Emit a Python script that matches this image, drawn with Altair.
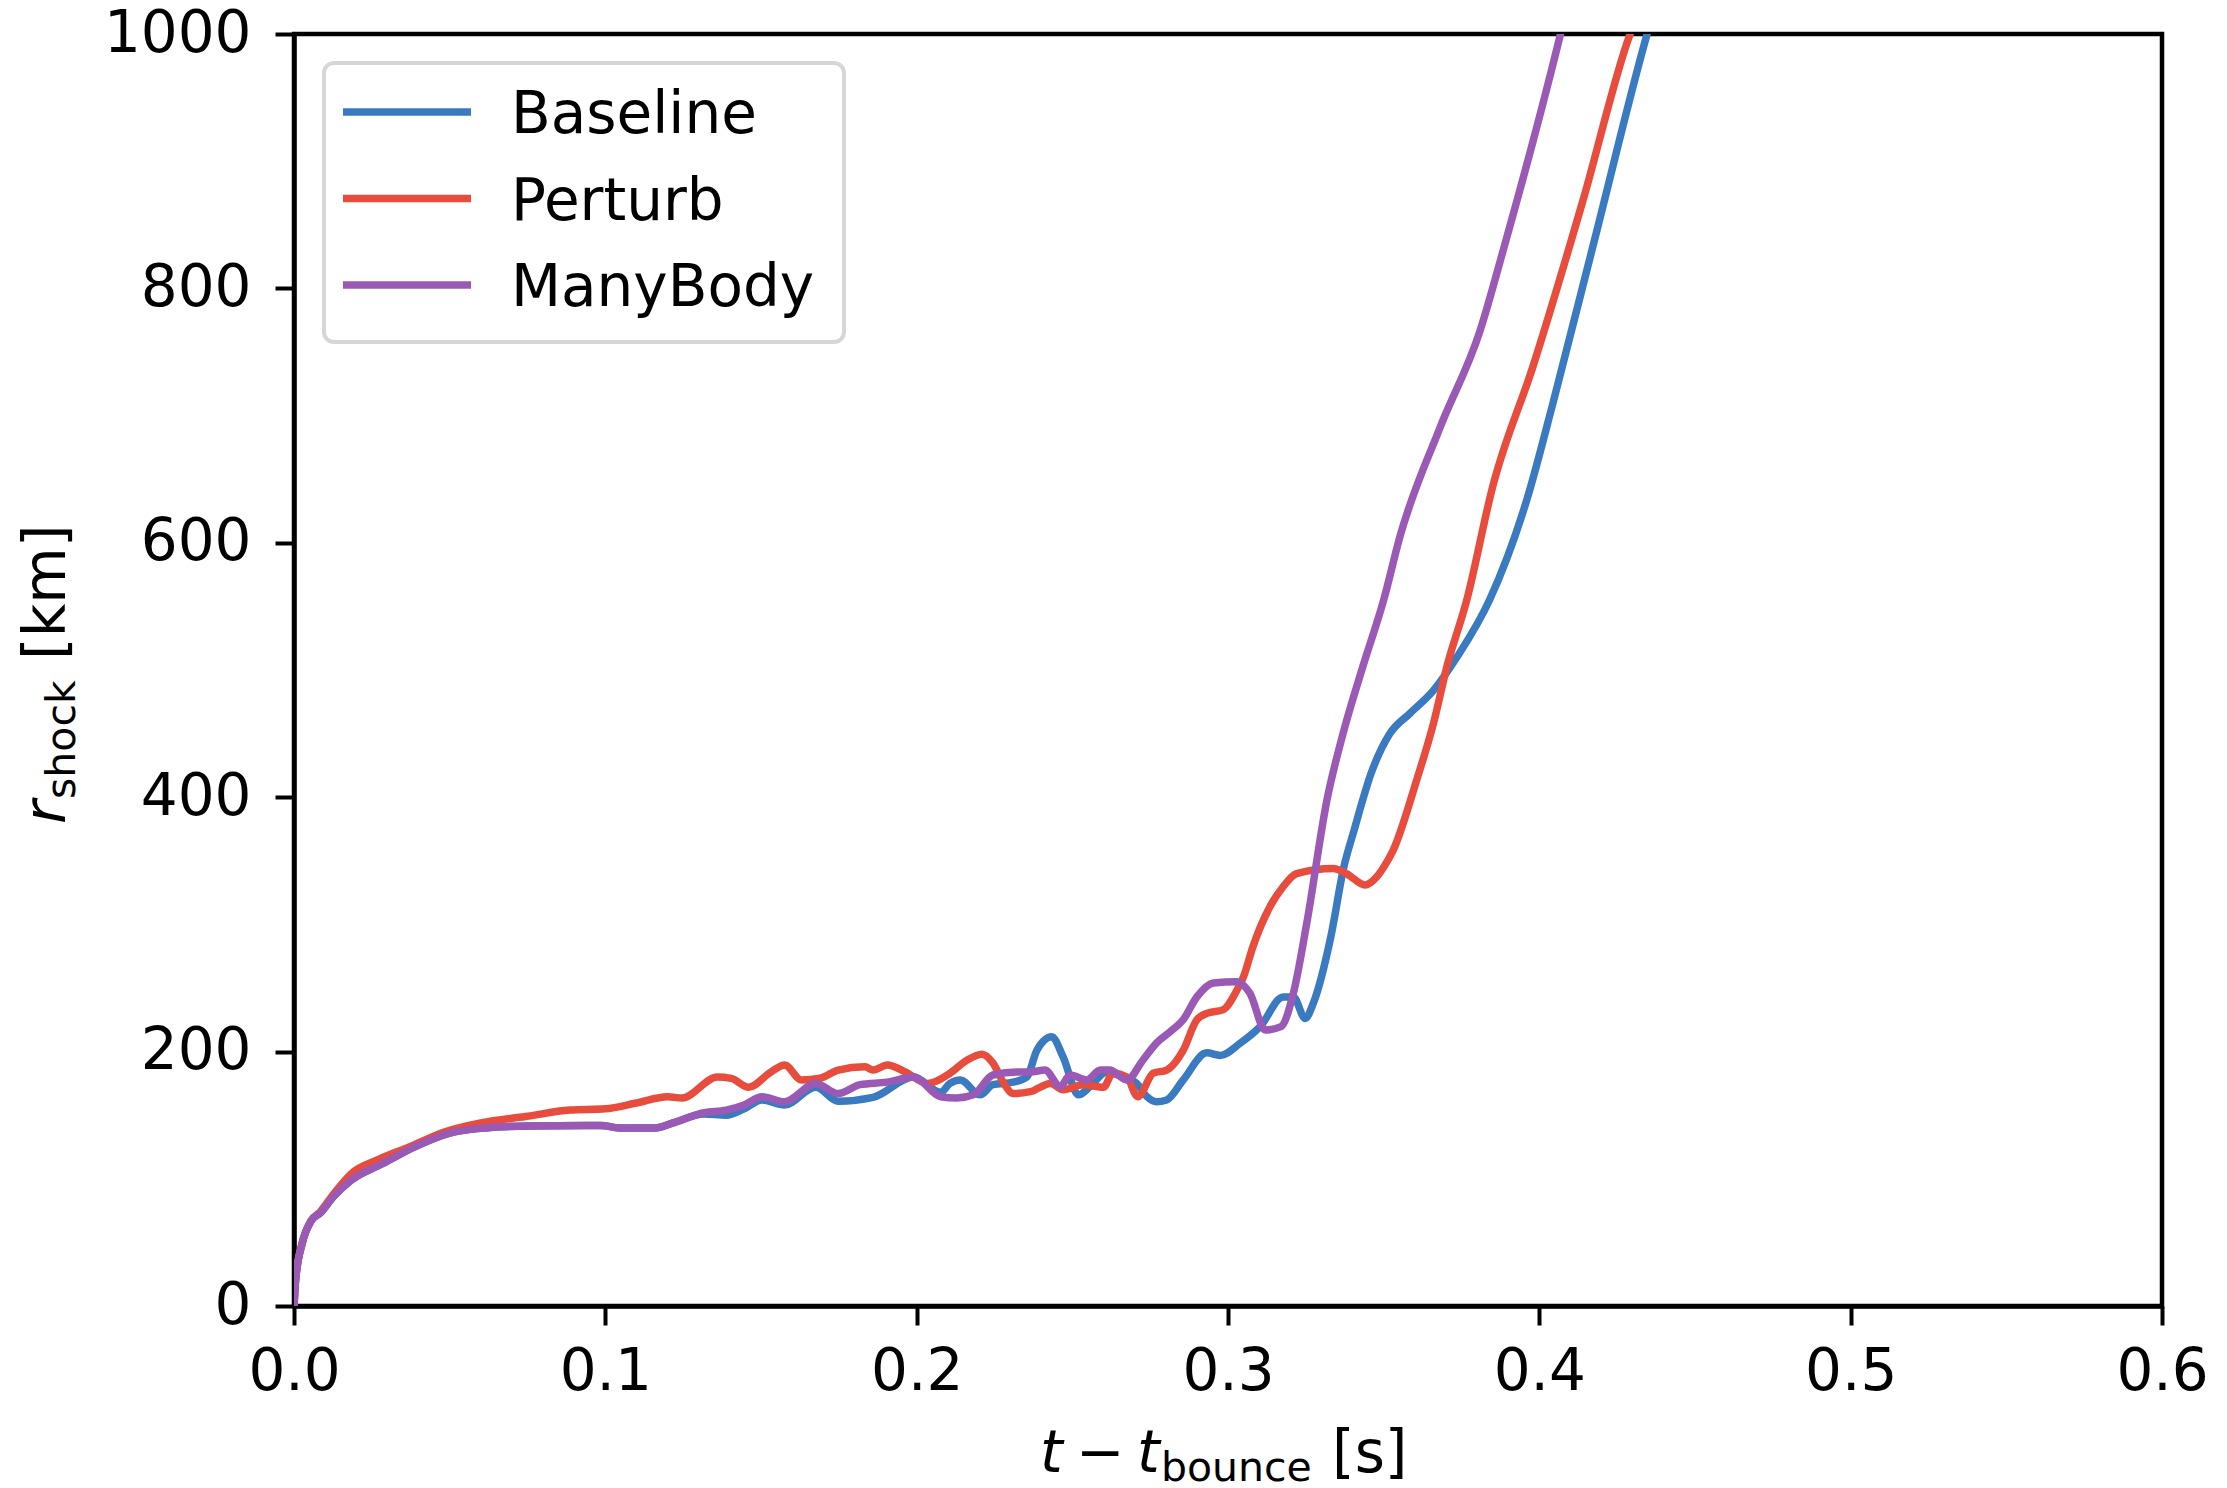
import altair as alt
import pandas as pd

series_names = ["Baseline", "Perturb", "ManyBody"]
series_colors = ["#3a7ac1", "#e74c3c", "#9b59b6"]

baseline_t = [0, 0.0005, 0.0026, 0.0055, 0.0084, 0.0127, 0.0184, 0.0285, 0.0386, 0.050, 0.0615, 0.0758,
              0.0986, 0.1044, 0.116, 0.1218, 0.1317, 0.1388, 0.1446, 0.1503, 0.1575, 0.1676, 0.1748, 0.186,
              0.199, 0.2077, 0.2107, 0.214, 0.2204, 0.2245, 0.231, 0.2354, 0.2386, 0.2434, 0.247, 0.252,
              0.2557, 0.261, 0.2663, 0.2707, 0.274, 0.277, 0.2803, 0.2856, 0.2932, 0.2975, 0.304, 0.3103,
              0.3177, 0.321, 0.3248, 0.3274, 0.333, 0.3372, 0.3405, 0.346, 0.352, 0.3585, 0.366, 0.3735,
              0.384, 0.396, 0.4045, 0.4173, 0.4345, 0.436]
baseline_r = [0, 20, 49, 67, 73, 86, 99, 112, 125, 136, 140, 141.5,
              142, 140, 140, 144, 151, 150, 155, 162, 158, 172, 161, 164,
              180, 168, 175, 177.7, 166, 174, 176, 180, 201, 211.7, 196, 166,
              172.5, 184, 180, 175, 164.5, 160.6, 162, 177.7, 199, 197, 206.7, 219.6,
              243, 243, 226, 238, 290, 345, 374, 419, 450, 466, 484, 510,
              555, 634, 711, 834, 999, 1012]

perturb_t = [0, 0.0005, 0.0026, 0.0055, 0.0084, 0.0127, 0.0184, 0.027, 0.037, 0.0485, 0.06, 0.0744,
             0.0887, 0.100, 0.110, 0.12, 0.1246, 0.136, 0.1404, 0.146, 0.1532, 0.1576, 0.163, 0.169,
             0.1748, 0.1834, 0.186, 0.1906, 0.1963, 0.2035, 0.2107, 0.216, 0.221, 0.2245, 0.228, 0.231,
             0.2365, 0.243, 0.247, 0.2535, 0.26, 0.263, 0.2675, 0.271, 0.276, 0.2803, 0.2856, 0.29,
             0.2932, 0.2985, 0.3028, 0.305, 0.308, 0.3135, 0.3177, 0.322, 0.3338, 0.338, 0.344, 0.3478,
             0.35, 0.353, 0.3606, 0.366, 0.3703, 0.3767, 0.385, 0.398, 0.414, 0.429, 0.431]
perturb_r = [0, 20, 49, 67, 74, 88, 104, 115, 125, 137, 144, 149,
             154, 155, 159.6, 164.5, 163.5, 180, 179, 172, 184, 189.5, 177.7, 179,
             185.5, 188, 185.5, 189.5, 184, 175, 183, 193, 198, 191, 175, 167,
             168.5, 175, 170, 174, 172, 183, 180, 164.5, 183, 185.5, 201, 225,
             230, 233, 248, 259, 282.5, 314, 329.6, 340, 344, 340, 331, 337.5,
             345, 358, 413.5, 458, 502.6, 555, 644, 739, 869, 999, 1012]

manybody_t = [0, 0.0005, 0.0026, 0.0055, 0.0084, 0.0127, 0.0184, 0.0285, 0.0386, 0.050, 0.0615, 0.0758,
              0.0986, 0.1044, 0.116, 0.1218, 0.1317, 0.1388, 0.1446, 0.1503, 0.1575, 0.1676, 0.1748, 0.1818,
              0.1905, 0.199, 0.2077, 0.2129, 0.2182, 0.2245, 0.2322, 0.2365, 0.2412, 0.2461, 0.2493, 0.2546,
              0.259, 0.262, 0.2675, 0.2727, 0.277, 0.2814, 0.2856, 0.29, 0.2953, 0.3028, 0.307, 0.312,
              0.317, 0.321, 0.3253, 0.3318, 0.337, 0.3433, 0.35, 0.3553, 0.368, 0.381, 0.3884, 0.4067, 0.408]
manybody_r = [0, 20, 49, 67, 73, 86, 99, 112, 125, 136, 140, 141.5,
              142, 140, 140, 144, 152, 154, 158, 164.5, 160.6, 175, 167, 174,
              176, 180, 164.5, 163.5, 166, 181.6, 184, 184, 185.5, 172.5, 181.6, 177.7,
              185.5, 185.5, 177.7, 193.4, 206.7, 215.6, 225, 243, 254, 255, 246, 217,
              219.6, 246, 301, 398, 450.5, 502.6, 555, 605.5, 690, 767, 830, 999, 1012]

x_ticks = [0.0, 0.1, 0.2, 0.3, 0.4, 0.5, 0.6]
y_ticks = [0, 200, 400, 600, 800, 1000]

series_t = [baseline_t, perturb_t, manybody_t]
series_r = [baseline_r, perturb_r, manybody_r]

FONT = "DejaVu Sans"
FS = 58
SUB = 41
W, H = 1868, 1272
LW = 7.5

xscale = alt.Scale(domain=[0, 0.6], nice=False, zero=False)
yscale = alt.Scale(domain=[0, 1000], nice=False)
color_scale = alt.Scale(domain=series_names, range=series_colors)

axis_common = dict(labelFont=FONT, labelFontSize=FS, labelColor="black", tickColor="black",
                   tickWidth=4, tickSize=19, domainColor="black", domainWidth=4.5, grid=False,
                   labelOverlap=False, labelFlush=False, labelBound=False, title=None)

layers = []
for i, name in enumerate(series_names):
    df = pd.DataFrame({"t": series_t[i], "r": series_r[i], "series": name})
    enc = dict(
        x=alt.X("t:Q", scale=xscale,
                axis=alt.Axis(values=x_ticks, format=".1f", labelPadding=18, **axis_common)),
        y=alt.Y("r:Q", scale=yscale,
                axis=alt.Axis(values=y_ticks, format="d", labelPadding=24, **axis_common)),
        color=alt.Color("series:N", scale=color_scale, legend=None),
        order=alt.Order("t:Q"),
    )
    layers.append(alt.Chart(df).mark_line(strokeWidth=LW, clip=True, strokeJoin="round",
                                          interpolate="monotone",
                                          strokeCap="butt").encode(**enc))

dummy = pd.DataFrame({"a": [0]})


def txt(text, x, y, size=FS, italic=False, angle=0):
    kw = dict(text=text, font=FONT, fontSize=size, color="black", align="left",
              baseline="alphabetic")
    if italic:
        kw["fontStyle"] = "italic"
    if angle:
        kw["angle"] = angle
    return alt.Chart(dummy).mark_text(**kw).encode(x=alt.value(x), y=alt.value(y))


# x axis title: t − t_bounce [s]
layers += [
    txt("t", 746, 1438, italic=True),
    txt("\u2212", 782, 1438),
    txt("t", 843, 1438, italic=True),
    txt("bounce", 867, 1447, size=SUB),
    txt("[s]", 1038, 1438),
]
# y axis title: r_shock [km]
layers += [
    txt("r", -229, 790, italic=True, angle=270),
    txt("shock", -219, 765, size=SUB, angle=270),
    txt("[km]", -229, 626, angle=270),
]

# legend
layers.append(
    alt.Chart(dummy).mark_rect(cornerRadius=10, fill="white", fillOpacity=0.8,
                               stroke="#d6d6d6", strokeWidth=4)
    .encode(x=alt.value(30), x2=alt.value(550), y=alt.value(29), y2=alt.value(308))
)
for i, (name, c) in enumerate(zip(series_names, series_colors)):
    yy = 78 + 86.5 * i
    layers.append(
        alt.Chart(dummy).mark_rule(strokeWidth=LW, color=c)
        .encode(x=alt.value(49), x2=alt.value(177), y=alt.value(yy))
    )
    layers.append(txt(name, 217, yy + 21))

chart = alt.layer(*layers).properties(
    width=W, height=H,
    autosize=alt.AutoSizeParams(type="none"),
    padding={"left": 294, "top": 34, "right": 65, "bottom": 182},
).configure(font=FONT, background="white").configure_view(stroke="black", strokeWidth=4.5)

chart.save("out.html", embed_options={"renderer": "svg", "actions": False})
